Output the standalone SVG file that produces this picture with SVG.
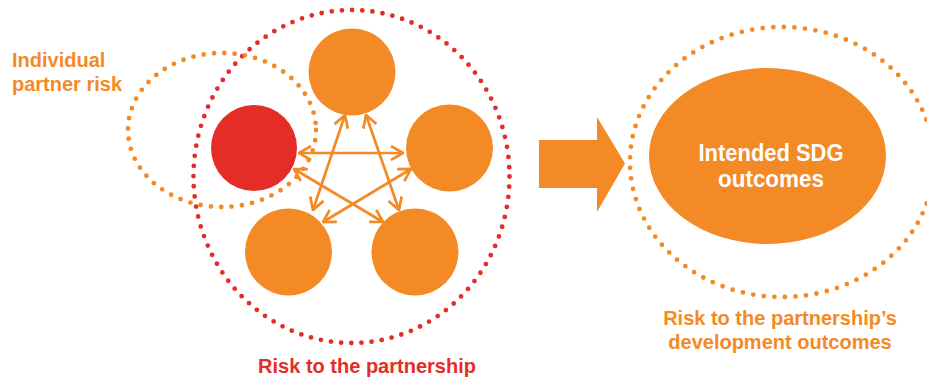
<svg xmlns="http://www.w3.org/2000/svg" width="927" height="380" viewBox="0 0 927 380">
<style>
.lbl{font-family:"Liberation Sans",Arial,sans-serif;font-weight:bold;font-size:20px}
.or{fill:#F48A26}
.rd{fill:#E42D26}
.dots{fill:none;stroke-width:4.8;stroke-linecap:round}
.link{stroke:#F48A26;stroke-width:2.7;fill:none}
.wt{font-family:"Liberation Sans",Arial,sans-serif;font-weight:bold;font-size:24px;fill:#FFFFFF}
</style>
<defs>
<marker id="chev" viewBox="0 0 14 16" refX="13" refY="8" markerWidth="14" markerHeight="16" markerUnits="userSpaceOnUse" orient="auto-start-reverse">
<path d="M1,1 L13,8 L1,15" fill="none" stroke="#F48A26" stroke-width="2.7"/>
</marker>
</defs>

<g id="risk-partnership-boundary">
<ellipse class="dots" cx="351.5" cy="176.5" rx="158" ry="166.5" stroke="#E42D26" stroke-dasharray="0 10.2"/>
</g>
<g id="individual-risk-boundary">
<ellipse class="dots" cx="222" cy="130" rx="94" ry="77" stroke="#F48A26" stroke-dasharray="0 10.4"/>
</g>

<g id="partner-red"><circle cx="254" cy="148" r="43" fill="#E42D26"/></g>
<g id="partner-top"><circle cx="352" cy="72" r="43.5" fill="#F48A26"/></g>
<g id="partner-right"><circle cx="449.5" cy="148" r="43.5" fill="#F48A26"/></g>
<g id="partner-bottom-left"><circle cx="288.5" cy="252" r="43.5" fill="#F48A26"/></g>
<g id="partner-bottom-right"><circle cx="415" cy="252" r="43.5" fill="#F48A26"/></g>

<g id="connectors">
<line class="link" x1="299" y1="153" x2="403" y2="153" marker-start="url(#chev)" marker-end="url(#chev)"/>
<line class="link" x1="345" y1="115" x2="313" y2="210" marker-start="url(#chev)" marker-end="url(#chev)"/>
<line class="link" x1="366" y1="115" x2="399" y2="210" marker-start="url(#chev)" marker-end="url(#chev)"/>
<line class="link" x1="294" y1="169" x2="383" y2="222" marker-start="url(#chev)" marker-end="url(#chev)"/>
<line class="link" x1="411" y1="169" x2="323" y2="222" marker-start="url(#chev)" marker-end="url(#chev)"/>
</g>

<g id="big-arrow">
<polygon points="539,140 597,140 597,117 625,163.5 597,212 597,188 539,188" fill="#F48A26"/>
</g>

<g id="outcome-boundary">
<ellipse class="dots" cx="782" cy="162" rx="152" ry="135" stroke="#F48A26" stroke-dasharray="0 10.6"/>
</g>

<g id="sdg-outcomes">
<ellipse cx="767.5" cy="156" rx="118.5" ry="88" fill="#F48A26"/>
<text class="wt" x="771" y="161" text-anchor="middle" textLength="145" lengthAdjust="spacingAndGlyphs">Intended SDG</text>
<text class="wt" x="771" y="187" text-anchor="middle" textLength="106" lengthAdjust="spacingAndGlyphs">outcomes</text>
</g>

<g id="labels">
<text class="lbl or" x="12" y="67">Individual</text>
<text class="lbl or" x="12" y="91">partner risk</text>
<text class="lbl rd" x="367" y="373" text-anchor="middle">Risk to the partnership</text>
<text class="lbl or" x="780" y="325" text-anchor="middle">Risk to the partnership’s</text>
<text class="lbl or" x="780" y="349" text-anchor="middle">development outcomes</text>
</g>
</svg>
